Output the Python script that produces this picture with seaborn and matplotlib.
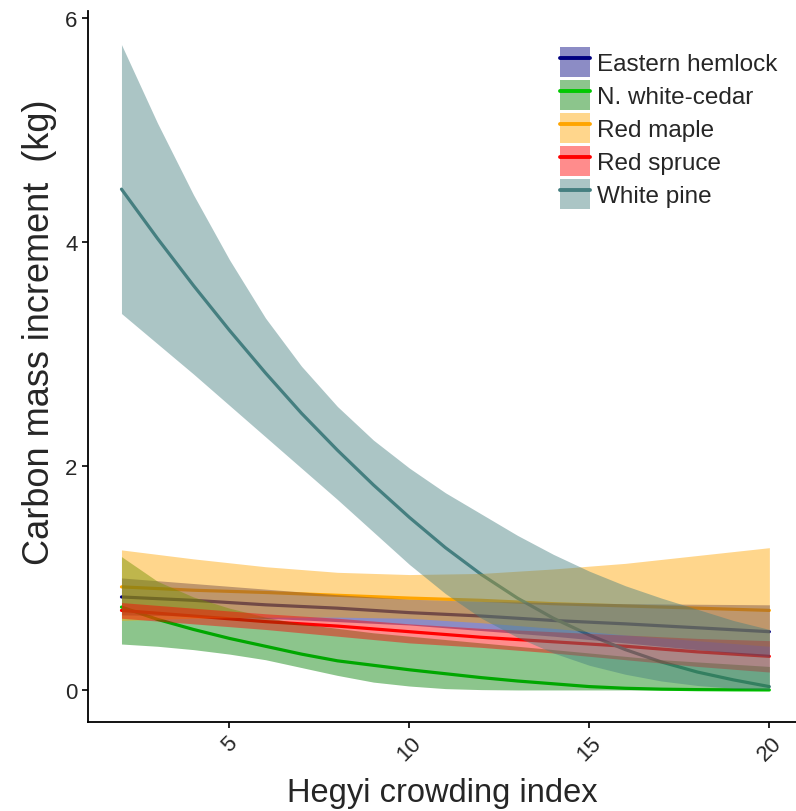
import numpy as np
import pandas as pd
import matplotlib
matplotlib.use("Agg")
import matplotlib.pyplot as plt
from matplotlib.patches import Patch
from matplotlib.lines import Line2D
from matplotlib.legend_handler import HandlerTuple
from matplotlib import font_manager
import seaborn as sns

# ---- fitted carbon increment vs. crowding, with confidence ribbons ----
species = ["Eastern hemlock", "N. white-cedar", "Red maple", "Red spruce", "White pine"]

x_coarse = [2, 4, 6, 8, 10, 12, 14, 16, 18, 20]
x_fine = list(range(2, 21))

hemlock_fit = [0.83, 0.80, 0.76, 0.73, 0.69, 0.66, 0.62, 0.59, 0.555, 0.52]
hemlock_hi = [1.00, 0.95, 0.90, 0.85, 0.81, 0.79, 0.78, 0.77, 0.765, 0.76]
hemlock_lo = [0.67, 0.66, 0.64, 0.61, 0.58, 0.53, 0.48, 0.42, 0.36, 0.30]

cedar_fit = [0.74, 0.63, 0.54, 0.46, 0.39, 0.32, 0.26, 0.22, 0.18, 0.145,
             0.11, 0.08, 0.055, 0.03, 0.015, 0.007, 0.003, 0.001, 0.0]
cedar_hi = [1.19, 0.97, 0.83, 0.73, 0.65, 0.59, 0.55, 0.51, 0.48, 0.45,
            0.42, 0.39, 0.36, 0.33, 0.30, 0.27, 0.25, 0.23, 0.21]
cedar_lo = [0.41, 0.39, 0.36, 0.32, 0.27, 0.20, 0.13, 0.07, 0.035, 0.012,
            0.003, 0.0, 0.0, 0.0, 0.0, 0.0, 0.0, 0.0, 0.0]

maple_fit = [0.92, 0.89, 0.87, 0.845, 0.82, 0.80, 0.77, 0.75, 0.73, 0.71]
maple_hi = [1.25, 1.17, 1.10, 1.05, 1.03, 1.04, 1.08, 1.13, 1.20, 1.27]
maple_lo = [0.62, 0.64, 0.65, 0.65, 0.64, 0.60, 0.55, 0.49, 0.44, 0.39]

spruce_fit = [0.71, 0.66, 0.61, 0.57, 0.52, 0.47, 0.43, 0.39, 0.34, 0.30]
spruce_hi = [0.78, 0.73, 0.68, 0.64, 0.59, 0.55, 0.52, 0.49, 0.46, 0.44]
spruce_lo = [0.64, 0.59, 0.54, 0.48, 0.42, 0.38, 0.33, 0.27, 0.21, 0.16]

pine_fit = [4.47, 4.03, 3.61, 3.21, 2.83, 2.47, 2.14, 1.83, 1.54, 1.27,
            1.03, 0.82, 0.64, 0.49, 0.36, 0.25, 0.16, 0.09, 0.03]
pine_hi = [5.76, 5.06, 4.42, 3.84, 3.32, 2.89, 2.53, 2.23, 1.98, 1.76,
           1.57, 1.38, 1.21, 1.06, 0.93, 0.82, 0.72, 0.62, 0.54]
pine_lo = [3.36, 3.09, 2.82, 2.54, 2.26, 1.98, 1.70, 1.41, 1.12, 0.86,
           0.64, 0.47, 0.33, 0.22, 0.14, 0.08, 0.04, 0.015, 0.003]

y_ticks = [0, 2, 4, 6]
x_ticks = [5, 10, 15, 20]

line_colors = ["#000080", "#00c800", "#ffa500", "#ff0000", "#457f80"]
fill_colors = ["#000080", "#008000", "#ffa500", "#ff0000", "#457f80"]
fill_alpha = 0.45

series = {
    "Eastern hemlock": (x_coarse, hemlock_fit, hemlock_lo, hemlock_hi),
    "N. white-cedar": (x_fine, cedar_fit, cedar_lo, cedar_hi),
    "Red maple": (x_coarse, maple_fit, maple_lo, maple_hi),
    "Red spruce": (x_coarse, spruce_fit, spruce_lo, spruce_hi),
    "White pine": (x_fine, pine_fit, pine_lo, pine_hi),
}

frames = []
for sp in species:
    xs, fit, lo, hi = series[sp]
    frames.append(pd.DataFrame({"hegyi": xs, "carbon": fit, "lo": lo, "hi": hi, "species": sp}))
df = pd.concat(frames, ignore_index=True)

sns.set_style("ticks")
available = {f.name for f in font_manager.fontManager.ttflist}
narrow = "Liberation Sans Narrow" if "Liberation Sans Narrow" in available else "Liberation Sans"
plt.rcParams["font.family"] = ["Liberation Sans", "DejaVu Sans"]

fig = plt.figure(figsize=(7.96, 8.12), dpi=100)
ax = fig.add_axes([88 / 796, 1 - 723 / 812, 1 - 88 / 796, (723 - 12) / 812])

# fitted curves sit underneath all the ribbons
sns.lineplot(data=df, x="hegyi", y="carbon", hue="species", hue_order=species,
             palette=dict(zip(species, line_colors)), linewidth=2.3,
             legend=False, ax=ax, zorder=1, estimator=None, sort=True)

for sp, fc in zip(species, fill_colors):
    sub = df[df["species"] == sp]
    ax.fill_between(sub["hegyi"], sub["lo"], sub["hi"], color=fc,
                    alpha=fill_alpha, linewidth=0, zorder=2)

ax.set_xlim(1.07, 20.74)
ax.set_ylim(-0.286, 6.06)
ax.set_xticks(x_ticks)
ax.set_yticks(y_ticks)
ax.set_xticklabels([str(t) for t in x_ticks], rotation=45, ha="center", va="top",
                   fontsize=16)
ax.set_yticklabels([str(t) for t in y_ticks], fontsize=16)
ax.tick_params(axis="both", length=4.5, width=1.2, color="black", pad=3)

ax.set_xlabel("Hegyi crowding index", fontsize=23.5, family=narrow, labelpad=9)
ax.set_ylabel("Carbon mass increment  (kg)", fontsize=26, family=narrow)
ax.yaxis.set_label_coords(-0.044, 0.549)

for side in ["top", "right"]:
    ax.spines[side].set_visible(False)
for side in ["left", "bottom"]:
    ax.spines[side].set_linewidth(1.3)
    ax.spines[side].set_color("black")

handles = []
for lc, fc in zip(line_colors, fill_colors):
    p = Patch(facecolor=fc, alpha=fill_alpha, edgecolor="none")
    ln = Line2D([], [], color=lc, linewidth=2.8)
    handles.append((p, ln))

fig.legend(handles, species, handler_map={tuple: HandlerTuple(ndivide=1)},
           loc="upper left", bbox_to_anchor=(560 / 796, 1 - 48 / 812),
           frameon=False, fontsize=17.5, handlelength=1.23, handleheight=1.52,
           labelspacing=0.12, handletextpad=0.3, borderpad=0, borderaxespad=0)

fig.savefig("out.png", dpi=100)
